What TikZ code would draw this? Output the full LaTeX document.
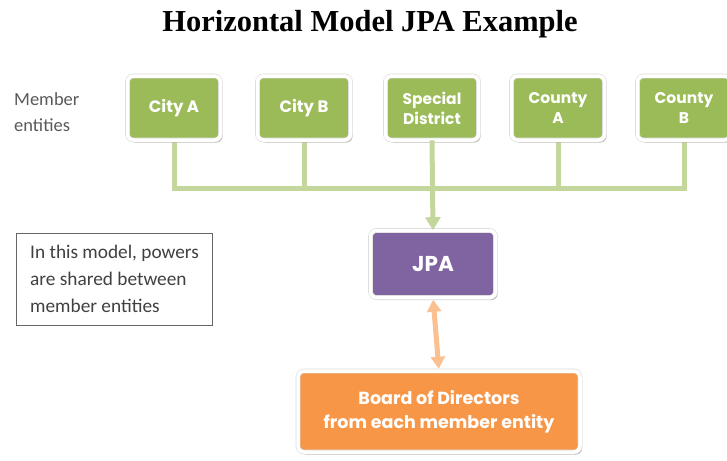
\documentclass[tikz,border=0pt]{standalone}
\usepackage{fontspec}
\setmainfont{Liberation Serif}
\newfontfamily\gothic{Poppins}
\newfontfamily\calib{Carlito}
\usetikzlibrary{shadows,arrows.meta}
\definecolor{mgreen}{HTML}{9BBB59}
\definecolor{lgreen}{HTML}{C3D69B}
\definecolor{mpurple}{HTML}{8064A2}
\definecolor{morange}{HTML}{F79646}
\definecolor{lorange}{HTML}{FAC090}
\definecolor{txtgray}{HTML}{595959}
\definecolor{boxgray}{HTML}{404040}
\tikzset{
  card/.style={rounded corners=6pt, draw=gray!30, double=white, double distance=3.5pt,
    line width=0.6pt, text=white, align=center, inner sep=0pt,
    drop shadow={shadow xshift=2pt, shadow yshift=-2.5pt, fill=black!45, opacity=0.6}},
  member/.style={card, fill=mgreen, minimum width=93pt, minimum height=64pt,
    font=\gothic\bfseries\fontsize{15.5}{20}\selectfont},
  conn/.style={lgreen, line width=5pt},
}
\begin{document}
\begin{tikzpicture}[x=1pt,y=-1pt]
\useasboundingbox (0,0) rectangle (727,460);

% title
\node (title) at (370,24) {\fontsize{30.5}{34}\selectfont\bfseries Horizontal Model JPA Example};

% side labels
\node[inner sep=0pt, anchor=north west, align=left, text=txtgray,
      font=\calib\fontsize{18.5}{26}\selectfont] (memlbl) at (14,92) {Member\\entities};
\node[draw=gray!80!black, line width=0.8pt, minimum width=196pt, minimum height=92pt,
      inner sep=0pt] (note) at (114.5,279) {};
\node[inner sep=0pt, anchor=north west, align=left, text=boxgray,
      font=\calib\fontsize{19.3}{27}\selectfont] (notetxt) at (30,245)
      {In this model, powers\\are shared between\\member entities};

\coordinate (bar) at (0,188);

% connectors behind the member boxes
\coordinate (ca) at (174,108);
\coordinate (cb) at (304,108);
\coordinate (sd) at (432,108);
\coordinate (coa) at (558,108);
\coordinate (cob) at (684,108);
\draw[conn, line join=miter] (ca) -- (ca |- bar) -- (cob |- bar) -- (cob);
\draw[conn] (cb) -- (cb |- bar);
\draw[conn] (coa) -- (coa |- bar);

% member entities
\node[member, font=\gothic\bfseries\fontsize{16.5}{20}\selectfont] (cityA) at (ca) {City A};
\node[member, font=\gothic\bfseries\fontsize{16.5}{20}\selectfont] (cityB) at (cb) {City B};
\node[member] (spd) at (sd) {Special\\District};
\node[member] (cntA) at (coa) {County\\A};
\node[member] (cntB) at (cob) {County\\B};

% JPA and board
\node[card, fill=mpurple, minimum width=125pt, minimum height=67pt,
      font=\gothic\bfseries\fontsize{21.5}{26}\selectfont] (jpa) at (433,264) {JPA};
\node[card, fill=morange, minimum width=282pt, minimum height=81pt,
      font=\gothic\bfseries\fontsize{17.5}{24}\selectfont] (board) at (439,411.5)
      {Board of Directors\\from each member entity};

\draw[conn, -{Triangle[width=15pt,length=13pt]}] (spd.south) -- (jpa.north);
\draw[lorange, line width=5pt, {Triangle[width=14pt,length=12pt]}-{Triangle[width=14pt,length=12pt]},
      shorten <=2pt, shorten >=2pt] (jpa.south) -- (board.north);
\end{tikzpicture}
\end{document}
